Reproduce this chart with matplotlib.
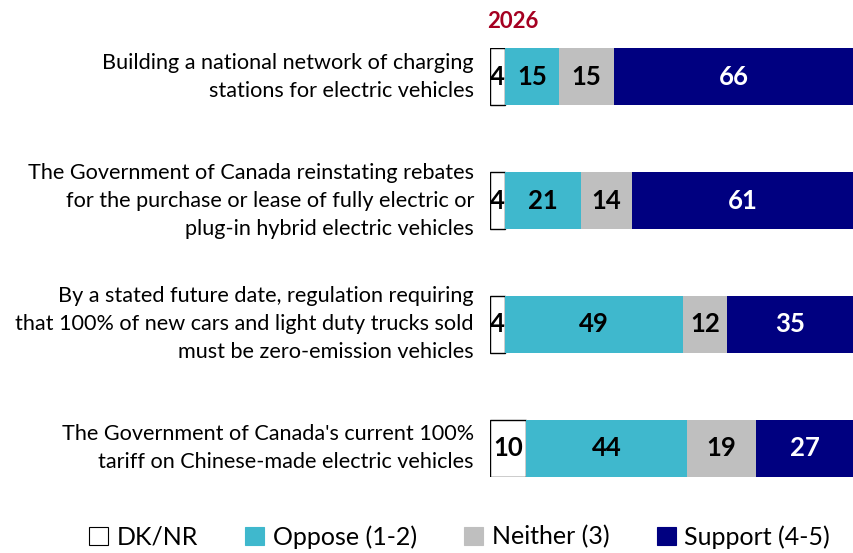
import matplotlib
matplotlib.use("Agg")
from matplotlib import pyplot as plt
from matplotlib.patches import Patch
import numpy as np

plt.rcParams['font.family'] = ['Lato', 'DejaVu Sans']

categories = [
    "Building a national network of charging\nstations for electric vehicles",
    "The Government of Canada reinstating rebates\nfor the purchase or lease of fully electric or\nplug-in hybrid electric vehicles",
    "By a stated future date, regulation requiring\nthat 100% of new cars and light duty trucks sold\nmust be zero-emission vehicles",
    "The Government of Canada's current 100%\ntariff on Chinese-made electric vehicles",
]
series_names = ["DK/NR", "Oppose (1-2)", "Neither (3)", "Support (4-5)"]
dknr = [4, 4, 4, 10]
oppose = [15, 21, 49, 44]
neither = [15, 14, 12, 19]
support = [66, 61, 35, 27]

colors = ["#FFFFFF", "#3FB8CD", "#BFBFBF", "#000080"]
text_colors = ["black", "black", "black", "white"]

fig = plt.figure(figsize=(8.54, 5.53), dpi=100)
ax = fig.add_axes([490 / 854, 1 - 477 / 553, 1 - 490 / 854, (477 - 48) / 553])

y = np.arange(len(categories))
h = 0.46
left = np.zeros(len(categories))
for vals, name, col, tc in zip([dknr, oppose, neither, support], series_names, colors, text_colors):
    vals = np.array(vals, dtype=float)
    if name == "DK/NR":
        ax.barh(y, vals, left=left, height=h, color=col, edgecolor="black", linewidth=1)
    else:
        ax.barh(y, vals, left=left, height=h, color=col, linewidth=0)
    for yi, l, v in zip(y, left, vals):
        ax.text(l + v / 2, yi, f"{int(v)}", ha="center", va="center",
                fontsize=18.5, fontweight="bold", color=tc)
    left += vals

ax.set_xlim(0, 100)
ax.set_ylim(len(categories) - 1 + h / 2, -h / 2)
ax.axis("off")

for yi, cat in zip(y, categories):
    ax.text(-4.4, yi, cat, ha="right", va="center", fontsize=15.6, linespacing=1.5)

fig.text(487 / 854, 1 - 21 / 553, "2026", color="#A50021", fontsize=16,
         fontweight="bold", ha="left", va="center")

handles = [Patch(facecolor=c, edgecolor="black" if i == 0 else c, linewidth=0.8)
           for i, c in enumerate(colors)]
fig.legend(handles, series_names, loc="center", bbox_to_anchor=(0.538, 1 - 537 / 553),
           ncol=4, frameon=False, fontsize=18, handlelength=0.75, handleheight=0.75,
           handletextpad=0.35, columnspacing=1.9)

fig.savefig("out.png", dpi=100)
